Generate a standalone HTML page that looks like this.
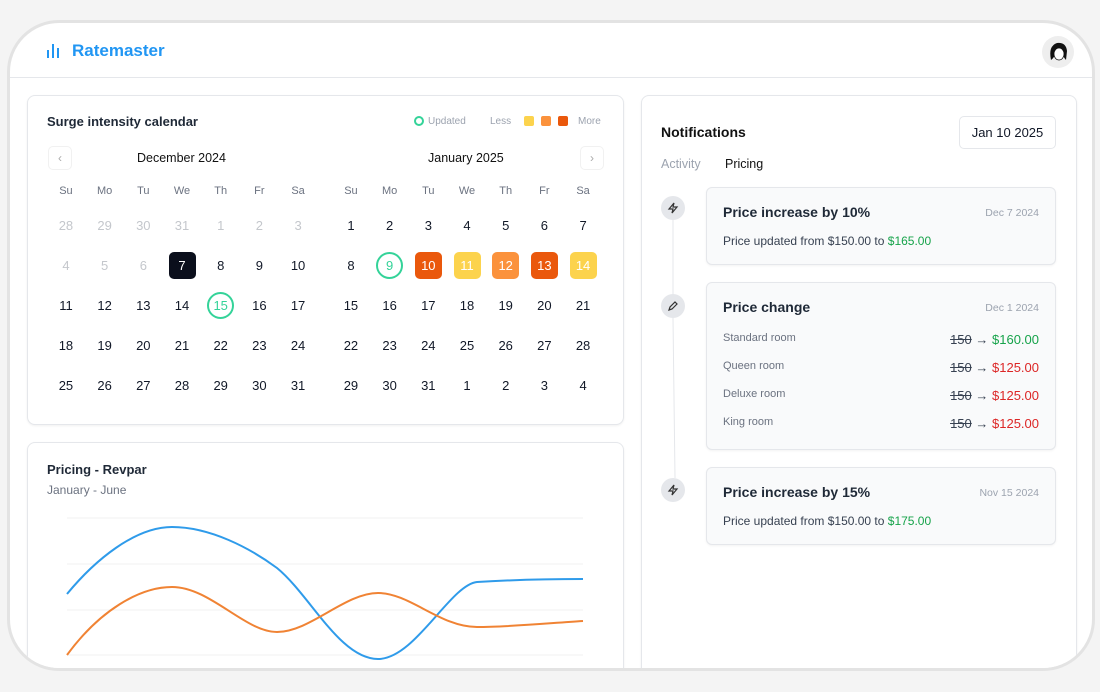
<!DOCTYPE html>
<html><head><meta charset="utf-8"><style>
*{box-sizing:border-box;margin:0;padding:0}
html,body{width:1100px;height:692px;overflow:hidden}
body{background:#f4f4f4;font-family:"Liberation Sans",sans-serif;position:relative;color:#111827}
.frame{position:absolute;left:7px;top:20px;width:1088px;height:651px;background:#fff;border:3px solid #e3e3e3;border-radius:52px;overflow:hidden}
.wrap{position:absolute;left:-10px;top:-23px;width:1100px;height:669px;overflow:hidden}
.abs{position:absolute}
.hdr{position:absolute;left:0;top:0;width:1100px;height:78px;border-bottom:1px solid #e5e7eb}
.card{position:absolute;background:#fff;border:1px solid #e5e7eb;border-radius:8px;box-shadow:0 1px 2px rgba(0,0,0,.06)}
.grid{position:absolute;display:grid;grid-template-columns:repeat(7,38.7px);grid-auto-rows:40.2px;font-size:13px;text-align:center}
.grid span{display:flex;align-items:center;justify-content:center}
.grid span i{font-style:normal;width:27px;height:27px;border-radius:5px;display:flex;align-items:center;justify-content:center}
.dow{position:absolute;display:grid;grid-template-columns:repeat(7,38.7px);font-size:11px;color:#6b7280;text-align:center}
.g{color:#c4c7cc}
.ncard{position:absolute;width:350px;background:#f9fafb;border:1px solid #e5e7eb;border-radius:6px;box-shadow:0 1px 2px rgba(0,0,0,.05)}
.ic{position:absolute;width:24px;height:24px;border-radius:50%;background:#e5e7eb;display:flex;align-items:center;justify-content:center}
.row{position:absolute;left:16px;right:16px;display:flex;justify-content:space-between;font-size:11px;color:#6b7280}
.row b{font-weight:normal;font-size:13px;color:#374151}
s{color:#374151}
</style></head><body>
<div class="frame"><div class="wrap">
 <div class="hdr">
  <svg class="abs" style="left:47px;top:44px" width="14" height="14"><rect x="0" y="6" width="2" height="8" fill="#2196f3"/><rect x="5" y="0" width="2" height="14" fill="#2196f3"/><rect x="10" y="4" width="2" height="10" fill="#2196f3"/></svg>
  <div class="abs" style="left:72px;top:41px;font-size:17px;font-weight:bold;color:#2196f3">Ratemaster</div>
  <div class="abs" style="left:1042px;top:36px;width:32px;height:32px;border-radius:50%;background:#eee;overflow:hidden">
   <svg width="32" height="32"><path d="M9 24 Q6 10 15 7 Q24 6 25 15 L24 24 Q20 20 21 14 Q17 13 14 16 Q13 21 9 24Z" fill="#111"/><ellipse cx="17" cy="18" rx="5" ry="6" fill="#fff" stroke="#111" stroke-width=".7"/></svg>
  </div>
 </div>

<div class="card" style="left:27px;top:95px;width:597px;height:330px"></div>
<div class="abs" style="left:47px;top:114px;font-size:13px;font-weight:bold;color:#1f2937">Surge intensity calendar</div>
<div class="abs" style="left:414px;top:116px;width:10px;height:10px;border:2px solid #34d399;border-radius:50%"></div>
<div class="abs" style="left:428px;top:116px;font-size:10px;color:#9ca3af">Updated</div>
<div class="abs" style="left:490px;top:116px;font-size:10px;color:#9ca3af">Less</div>
<div class="abs" style="left:524px;top:116px;width:10px;height:10px;background:#fcd34d;border-radius:2px"></div>
<div class="abs" style="left:541px;top:116px;width:10px;height:10px;background:#fb923c;border-radius:2px"></div>
<div class="abs" style="left:558px;top:116px;width:10px;height:10px;background:#ea580c;border-radius:2px"></div>
<div class="abs" style="left:578px;top:116px;font-size:10px;color:#9ca3af">More</div>
<div class="abs" style="left:48px;top:146px;width:24px;height:24px;border:1px solid #f1f1f1;border-radius:5px;color:#aaa;font-size:12px;text-align:center;line-height:22px">‹</div>
<div class="abs" style="left:580px;top:146px;width:24px;height:24px;border:1px solid #f1f1f1;border-radius:5px;color:#aaa;font-size:12px;text-align:center;line-height:22px">›</div>
<div class="abs" style="left:137px;top:151px;font-size:12.5px;color:#111">December 2024</div>
<div class="abs" style="left:428px;top:151px;font-size:12.5px;color:#111">January 2025</div>
<div class="dow" style="left:46.6px;top:185px"><span>Su</span><span>Mo</span><span>Tu</span><span>We</span><span>Th</span><span>Fr</span><span>Sa</span></div>
<div class="dow" style="left:331.6px;top:185px"><span>Su</span><span>Mo</span><span>Tu</span><span>We</span><span>Th</span><span>Fr</span><span>Sa</span></div>
<div class="grid" style="left:46.6px;top:205px">
<span class="g">28</span><span class="g">29</span><span class="g">30</span><span class="g">31</span><span class="g">1</span><span class="g">2</span><span class="g">3</span>
<span class="g">4</span><span class="g">5</span><span class="g">6</span><span><i style="background:#0b0f1c;color:#fff">7</i></span><span>8</span><span>9</span><span>10</span>
<span>11</span><span>12</span><span>13</span><span>14</span><span><i style="border:2px solid #34d399;border-radius:50%;color:#34d399">15</i></span><span>16</span><span>17</span>
<span>18</span><span>19</span><span>20</span><span>21</span><span>22</span><span>23</span><span>24</span>
<span>25</span><span>26</span><span>27</span><span>28</span><span>29</span><span>30</span><span>31</span>
</div>
<div class="grid" style="left:331.6px;top:205px">
<span>1</span><span>2</span><span>3</span><span>4</span><span>5</span><span>6</span><span>7</span>
<span>8</span><span><i style="border:2px solid #34d399;border-radius:50%;color:#34d399">9</i></span><span><i style="background:#ea580c;color:#fff">10</i></span><span><i style="background:#fcd34d;color:#fff">11</i></span><span><i style="background:#fb923c;color:#fff">12</i></span><span><i style="background:#ea580c;color:#fff">13</i></span><span><i style="background:#fcd34d;color:#fff">14</i></span>
<span>15</span><span>16</span><span>17</span><span>18</span><span>19</span><span>20</span><span>21</span>
<span>22</span><span>23</span><span>24</span><span>25</span><span>26</span><span>27</span><span>28</span>
<span>29</span><span>30</span><span>31</span><span>1</span><span>2</span><span>3</span><span>4</span>
</div>

<div class="card" style="left:27px;top:442px;width:597px;height:240px"></div>
<div class="abs" style="left:47px;top:462px;font-size:13px;font-weight:bold;color:#1f2937">Pricing - Revpar</div>
<div class="abs" style="left:47px;top:483px;font-size:12px;color:#6b7280">January - June</div>
<svg class="abs" style="left:0;top:0" width="1100" height="669">
 <g stroke="#f0f0f0" stroke-width="1"><line x1="67" y1="518" x2="583" y2="518"/><line x1="67" y1="564" x2="583" y2="564"/><line x1="67" y1="610" x2="583" y2="610"/><line x1="67" y1="655" x2="583" y2="655"/></g>
 <path d="M67 594 C95 560,135 527,172 527 C210 527,250 548,277 568 C310 595,340 659,378 659 C415 659,450 585,477 582 C510 580,550 579,583 579" fill="none" stroke="#2f9bea" stroke-width="2"/>
 <path d="M67 655 C100 610,140 587,172 587 C210 587,245 632,277 632 C310 632,345 593,378 593 C410 593,440 627,477 627 C510 627,550 623,583 621" fill="none" stroke="#f08334" stroke-width="2"/>
</svg>

<div class="card" style="left:641px;top:95px;width:436px;height:590px"></div>
<svg class="abs" style="left:0;top:0" width="1100" height="669"><line x1="673" y1="220" x2="673" y2="294" stroke="#e5e7eb"/><line x1="673" y1="318" x2="675" y2="478" stroke="#e5e7eb"/></svg>
<div class="abs" style="left:661px;top:124px;font-size:14px;font-weight:bold;color:#111">Notifications</div>
<div class="abs" style="left:959px;top:116px;width:97px;height:33px;border:1px solid #e5e7eb;border-radius:5px;font-size:13px;text-align:center;line-height:31px">Jan 10 2025</div>
<div class="abs" style="left:661px;top:157px;font-size:12.5px;color:#9ca3af">Activity</div>
<div class="abs" style="left:725px;top:157px;font-size:12.5px;color:#111">Pricing</div>
<div class="ic" style="left:661px;top:196px"><svg width="12" height="12"><path d="M7 1 L2 7 H6 L5 11 L10 5 H6 Z" fill="none" stroke="#333" stroke-width="1.2"/></svg></div>
<div class="ic" style="left:661px;top:294px"><svg width="12" height="12"><path d="M2 10 L3 7 L8 2 L10 4 L5 9 Z" fill="none" stroke="#333" stroke-width="1.2"/></svg></div>
<div class="ic" style="left:661px;top:478px"><svg width="12" height="12"><path d="M7 1 L2 7 H6 L5 11 L10 5 H6 Z" fill="none" stroke="#333" stroke-width="1.2"/></svg></div>
<div class="ncard" style="left:706px;top:187px;height:78px">
 <div class="abs" style="left:16px;top:16px;font-size:14px;font-weight:bold;color:#1f2937">Price increase by 10%</div>
 <div class="abs" style="right:16px;top:19px;font-size:10.5px;color:#9ca3af">Dec 7 2024</div>
 <div class="abs" style="left:16px;top:46px;font-size:12px;color:#374151">Price updated from $150.00 to <span style="color:#16a34a">$165.00</span></div>
</div>
<div class="ncard" style="left:706px;top:282px;height:168px">
 <div class="abs" style="left:16px;top:16px;font-size:14px;font-weight:bold;color:#1f2937">Price change</div>
 <div class="abs" style="right:16px;top:19px;font-size:10.5px;color:#9ca3af">Dec 1 2024</div>
 <div class="row" style="top:49px"><span>Standard room</span><b><s>150</s> → <span style="color:#16a34a">$160.00</span></b></div>
 <div class="row" style="top:77px"><span>Queen room</span><b><s>150</s> → <span style="color:#dc2626">$125.00</span></b></div>
 <div class="row" style="top:105px"><span>Deluxe room</span><b><s>150</s> → <span style="color:#dc2626">$125.00</span></b></div>
 <div class="row" style="top:133px"><span>King room</span><b><s>150</s> → <span style="color:#dc2626">$125.00</span></b></div>
</div>
<div class="ncard" style="left:706px;top:467px;height:78px">
 <div class="abs" style="left:16px;top:16px;font-size:14px;font-weight:bold;color:#1f2937">Price increase by 15%</div>
 <div class="abs" style="right:16px;top:19px;font-size:10.5px;color:#9ca3af">Nov 15 2024</div>
 <div class="abs" style="left:16px;top:46px;font-size:12px;color:#374151">Price updated from $150.00 to <span style="color:#16a34a">$175.00</span></div>
</div>
</div></div>
</body></html>
